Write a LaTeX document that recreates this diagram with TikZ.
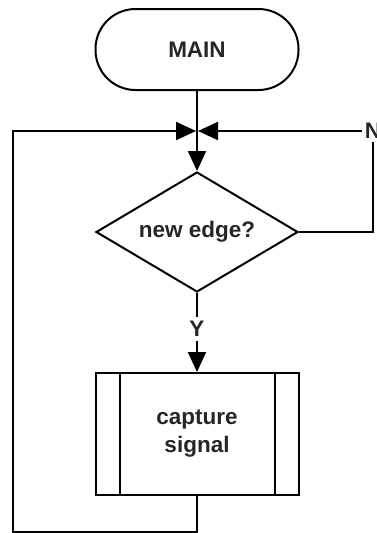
\documentclass[tikz,border=0pt]{standalone}
\usepackage{fontspec}
\setmainfont{Liberation Sans}
\usetikzlibrary{shapes.geometric,arrows.meta}
\begin{document}
\begin{tikzpicture}[x=1pt,y=-1pt,
  line width=2pt,
  every node/.style={font=\fontsize{22.5}{28}\selectfont\bfseries, text=black!85},
  tip/.style={-{Triangle[length=20pt,width=18pt]}},
  terminal/.style={draw, rounded corners=40pt, minimum width=203pt, minimum height=81pt, inner sep=0pt},
  decision/.style={draw, diamond, aspect=2, minimum width=202pt, minimum height=120pt, inner sep=0pt},
  subproc/.style={draw, rectangle, minimum width=203pt, minimum height=122pt, align=center, inner sep=0pt},
  branch/.style={inner sep=3pt}
]
\useasboundingbox (0,0) rectangle (377,533);

% nodes
\node[terminal] (main) at (197,49.5) {MAIN};
\node[decision] (dec) at (197,232) {new edge?};
\node[subproc] (cap) at (197,434) {capture\\signal};
\node[branch] (y) at (197,329) {Y};
\node[branch, inner sep=2pt] (n) at (373,131) {N};
\coordinate (j) at (197,131);
\coordinate (bl) at (13,532);

% side bars of the predefined-process box
\draw ([xshift=25pt]cap.north west) -- ([xshift=25pt]cap.south west);
\draw ([xshift=-25pt]cap.north east) -- ([xshift=-25pt]cap.south east);

% connectors
\draw[tip] (main.south) -- (dec.north);
\draw (dec.south) -- (y.north);
\draw[tip] (y.south) -- (cap.north);
\draw (dec.east) -| (n.south);
\draw[tip, shorten >=1pt] (n.west) -- (j);
\draw[tip, shorten >=1pt] (cap.south) |- (bl) |- (j);
\end{tikzpicture}
\end{document}
